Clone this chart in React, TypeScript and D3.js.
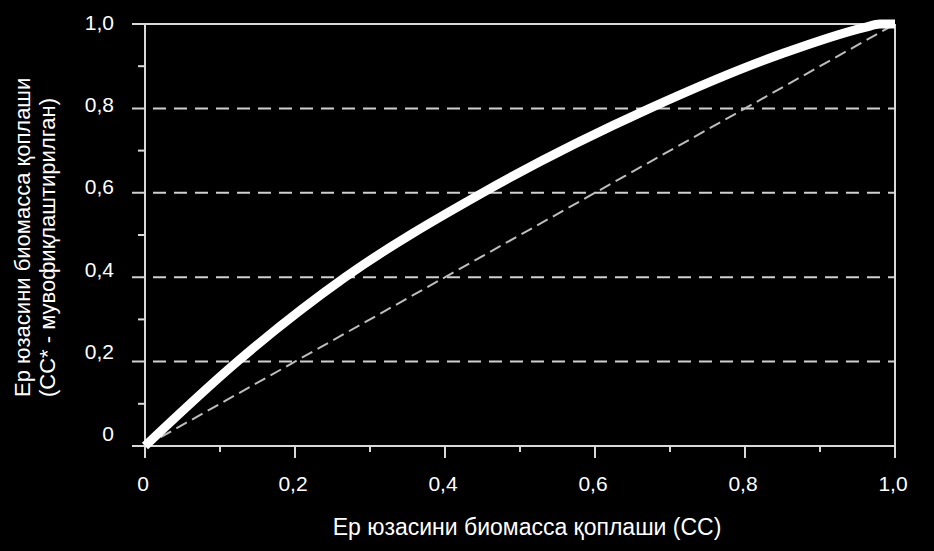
import { useEffect, useRef } from 'react';
import * as d3 from 'd3';

// CC values (x) and adjusted CC* values (y)
const ccValues = [0, 0.123, 0.267, 0.45, 0.673, 0.85, 0.96, 0.98, 1.0];
const ccAdjusted = [0, 0.2, 0.4, 0.6, 0.8, 0.93, 0.992, 1.0, 1.0];

const majorTicks = [0, 0.2, 0.4, 0.6, 0.8, 1.0];
const minorTicks = [0.1, 0.3, 0.5, 0.7, 0.9];
const gridValues = [0.2, 0.4, 0.6, 0.8];
const tickLabels = ['0', '0,2', '0,4', '0,6', '0,8', '1,0'];

const xTitle = 'Ер юзасини биомасса қоплаши (CC)';
const yTitleLines = ['Ер юзасини биомасса қоплаши', '(CC* - мувофиқлаштирилган)'];

export default function App() {
  const svgRef = useRef<SVGSVGElement>(null);

  useEffect(() => {
    if (!svgRef.current) return;
    const svg = d3.select(svgRef.current);
    svg.selectAll('*').remove();

    const width = 934;
    const height = 551;
    const font = '"Liberation Sans", Arial, sans-serif';
    const axisColor = '#d9d9d9';

    svg.append('rect').attr('width', width).attr('height', height).attr('fill', '#000');

    const x = d3.scaleLinear().domain([0, 1]).range([145, 895]);
    const y = d3.scaleLinear().domain([0, 1]).range([446, 24]);
    // label baselines sit on a slightly compressed scale
    const yLabel = d3.scaleLinear().domain([0, 1]).range([441, 30]);

    // dashed gridlines
    svg.append('g')
      .selectAll('line')
      .data(gridValues)
      .enter()
      .append('line')
      .attr('x1', 132)
      .attr('x2', x(1))
      .attr('y1', d => y(d))
      .attr('y2', d => y(d))
      .attr('stroke', '#d0d0d0')
      .attr('stroke-width', 2)
      .attr('stroke-dasharray', '13,8');

    // top solid line at 1.0
    svg.append('line')
      .attr('x1', 132).attr('x2', x(1))
      .attr('y1', y(1)).attr('y2', y(1))
      .attr('stroke', axisColor).attr('stroke-width', 2);

    // x axis line
    svg.append('line')
      .attr('x1', 132).attr('x2', x(1))
      .attr('y1', y(0)).attr('y2', y(0))
      .attr('stroke', axisColor).attr('stroke-width', 2);

    // y axis line and right border
    svg.append('line')
      .attr('x1', x(0)).attr('x2', x(0))
      .attr('y1', y(1)).attr('y2', y(0) + 12)
      .attr('stroke', axisColor).attr('stroke-width', 2);
    svg.append('line')
      .attr('x1', x(1)).attr('x2', x(1))
      .attr('y1', y(1)).attr('y2', y(0) + 12)
      .attr('stroke', axisColor).attr('stroke-width', 2);

    // x ticks
    svg.append('g')
      .selectAll('line')
      .data(majorTicks)
      .enter()
      .append('line')
      .attr('x1', d => x(d)).attr('x2', d => x(d))
      .attr('y1', y(0)).attr('y2', y(0) + 12)
      .attr('stroke', axisColor).attr('stroke-width', 2);
    svg.append('g')
      .selectAll('line')
      .data(minorTicks)
      .enter()
      .append('line')
      .attr('x1', d => x(d)).attr('x2', d => x(d))
      .attr('y1', y(0)).attr('y2', y(0) + 6)
      .attr('stroke', axisColor).attr('stroke-width', 2);

    // y minor ticks
    svg.append('g')
      .selectAll('line')
      .data(minorTicks)
      .enter()
      .append('line')
      .attr('x1', x(0) - 7).attr('x2', x(0))
      .attr('y1', d => y(d)).attr('y2', d => y(d))
      .attr('stroke', axisColor).attr('stroke-width', 2);

    // 1:1 diagonal reference
    svg.append('line')
      .attr('x1', x(0)).attr('y1', y(0))
      .attr('x2', x(1)).attr('y2', y(1))
      .attr('stroke', '#bdbdbd')
      .attr('stroke-width', 2)
      .attr('stroke-dasharray', '12,6');

    // adjusted curve
    const points = ccValues.map((v, i) => [v, ccAdjusted[i]] as [number, number]);
    const line = d3.line<[number, number]>()
      .x(d => x(d[0]))
      .y(d => y(d[1]))
      .curve(d3.curveMonotoneX);
    svg.append('path')
      .datum(points)
      .attr('fill', 'none')
      .attr('stroke', '#fff')
      .attr('stroke-width', 9)
      .attr('stroke-linejoin', 'round')
      .attr('d', line);

    // y tick labels
    svg.append('g')
      .selectAll('text')
      .data(majorTicks)
      .enter()
      .append('text')
      .attr('x', 114)
      .attr('y', d => yLabel(d))
      .attr('text-anchor', 'end')
      .attr('fill', '#fff')
      .attr('font-family', font)
      .attr('font-size', 21)
      .text((d, i) => tickLabels[i]);

    // x tick labels
    svg.append('g')
      .selectAll('text')
      .data(majorTicks)
      .enter()
      .append('text')
      .attr('x', d => x(d) - 2)
      .attr('y', 491)
      .attr('text-anchor', 'middle')
      .attr('fill', '#fff')
      .attr('font-family', font)
      .attr('font-size', 21)
      .text((d, i) => tickLabels[i]);

    // x title
    svg.append('text')
      .attr('x', 527)
      .attr('y', 535)
      .attr('text-anchor', 'middle')
      .attr('fill', '#fff')
      .attr('font-family', font)
      .attr('font-size', 23)
      .text(xTitle);

    // y title, two lines, start-aligned at the bottom
    const yTitle = svg.append('text')
      .attr('transform', 'translate(0, 397) rotate(-90)')
      .attr('fill', '#fff')
      .attr('font-family', font)
      .attr('font-size', 22)
      .attr('text-anchor', 'start');
    yTitleLines.forEach((t, i) => {
      yTitle.append('tspan')
        .attr('x', 0)
        .attr('y', 30 + i * 25)
        .text(t);
    });
  }, []);

  return (
    <svg
      ref={svgRef}
      width={934}
      height={551}
      style={{ position: 'absolute', left: 0, top: 0, display: 'block' }}
    />
  );
}
